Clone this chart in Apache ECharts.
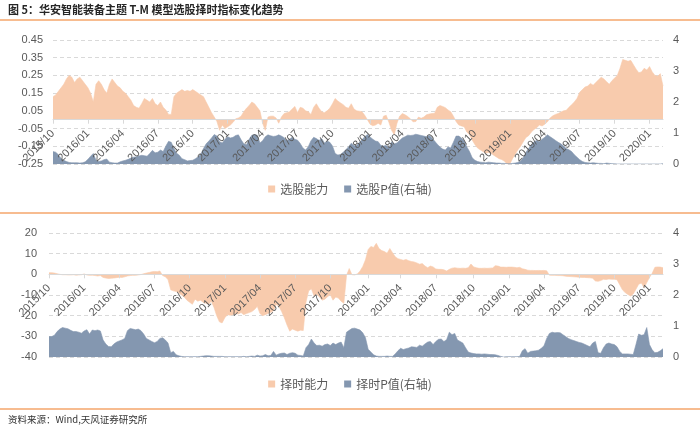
<!DOCTYPE html>
<html>
<head>
<meta charset="utf-8">
<title>华安智能装备主题 T-M 模型选股择时指标变化趋势</title>
<script src="https://cdn.jsdelivr.net/npm/echarts@6/dist/echarts.min.js"></script>
<style>
  html, body { margin: 0; padding: 0; background: #fff; }
  #main { width: 700px; height: 429px; }
</style>
</head>
<body>
<div id="main"></div>
<script>
// 周度数据，起点 2015/10/01
var quarterLabels = ['2015/10', '2016/01', '2016/04', '2016/07', '2016/10', '2017/01', '2017/04', '2017/07',
    '2017/10', '2018/01', '2018/04', '2018/07', '2018/10', '2019/01', '2019/04', '2019/07', '2019/10', '2020/01'];

// 选股能力（左轴）
var stockPick = [
    0.13, 0.14, 0.16, 0.18, 0.20, 0.23, 0.25, 0.24, 0.21, 0.23,
    0.24, 0.22, 0.20, 0.18, 0.15, 0.10, 0.20, 0.22, 0.20, 0.17,
    0.15, 0.20, 0.23, 0.21, 0.19, 0.18, 0.16, 0.15, 0.13, 0.11,
    0.08, 0.07, 0.065, 0.09, 0.12, 0.11, 0.10, 0.12, 0.09, 0.08,
    0.10, 0.07, 0.055, 0.03, 0.03, 0.13, 0.15, 0.16, 0.17, 0.16,
    0.165, 0.16, 0.17, 0.16, 0.15, 0.14, 0.13, 0.10, 0.07, 0.04,
    0.015, -0.01, -0.06, -0.03, -0.05, -0.04, -0.03, -0.015, 0.005, 0.01,
    0.02, 0.045, 0.065, 0.08, 0.10, 0.09, 0.07, 0.05, -0.02, -0.06,
    0.015, 0.02, 0.02, 0.01, -0.02, 0.015, 0.035, 0.04, 0.045, 0.06,
    0.075, 0.04, 0.07, 0.065, 0.05, 0.045, 0.03, 0.07, 0.09, 0.065,
    0.045, 0.04, 0.05, 0.065, 0.09, 0.12, 0.105, 0.095, 0.085, 0.07,
    0.065, 0.09, 0.06, 0.05, 0.048, 0.045, 0.025, 0.0, -0.025, -0.034,
    -0.03, -0.02, -0.03, 0.02, 0.025, -0.015, -0.06, -0.085, -0.02, 0.02,
    0.035, 0.028, 0.018, 0.005, -0.012, -0.01, 0.015, 0.008, 0.015, 0.028,
    0.032, 0.035, 0.036, 0.07, 0.08, 0.075, 0.068, 0.055, 0.045, 0.02,
    -0.01, -0.03, -0.035, -0.04, -0.07, -0.085, -0.115, -0.14, -0.16, -0.17,
    -0.18, -0.19, -0.185, -0.19, -0.20, -0.21, -0.22, -0.225, -0.235, -0.25,
    -0.25, -0.22, -0.195, -0.17, -0.15, -0.125, -0.10, -0.09, -0.07, -0.055,
    -0.045, -0.03, -0.035, -0.025, -0.012, 0.01, 0.022, 0.03, 0.035, 0.043,
    0.05, 0.053, 0.07, 0.085, 0.10, 0.12, 0.155, 0.17, 0.185, 0.19,
    0.205, 0.195, 0.21, 0.225, 0.24, 0.23, 0.215, 0.20, 0.22, 0.235,
    0.25, 0.29, 0.34, 0.335, 0.33, 0.335, 0.31, 0.285, 0.265, 0.27,
    0.29, 0.28, 0.30, 0.27, 0.25, 0.245, 0.26, 0.19
];

// 选股P值（右轴）
var stockPickP = [
    0.40, 0.38, 0.30, 0.18, 0.12, 0.08, 0.05, 0.04, 0.04, 0.04,
    0.03, 0.04, 0.07, 0.15, 0.25, 0.34, 0.12, 0.08, 0.10, 0.14,
    0.16, 0.06, 0.04, 0.03, 0.03, 0.07, 0.10, 0.12, 0.15, 0.19,
    0.22, 0.23, 0.26, 0.28, 0.27, 0.25, 0.34, 0.44, 0.36, 0.38,
    0.45, 0.40, 0.58, 0.73, 0.70, 0.50, 0.35, 0.28, 0.17, 0.14,
    0.10, 0.11, 0.12, 0.17, 0.23, 0.32, 0.50, 0.65, 0.74, 0.84,
    0.95, 0.90, 0.72, 0.68, 0.80, 0.88, 0.84, 0.86, 0.92, 0.94,
    0.78, 0.65, 0.62, 0.80, 0.93, 0.95, 0.93, 0.68, 0.75, 0.88,
    0.94, 0.91, 0.89, 0.90, 0.94, 0.90, 0.85, 0.76, 0.80, 0.86,
    0.80, 0.77, 0.66, 0.52, 0.45, 0.56, 0.75, 0.86, 0.82, 0.76,
    0.82, 0.68, 0.74, 0.70, 0.58, 0.34, 0.29, 0.31, 0.38, 0.46,
    0.56, 0.67, 0.60, 0.60, 0.70, 0.78, 0.88, 0.95, 0.87, 0.80,
    0.74, 0.72, 0.60, 0.58, 0.60, 0.52, 0.72, 0.65, 0.68, 0.76,
    0.84, 0.88, 0.93, 0.92, 0.93, 0.96, 0.94, 0.92, 0.90, 0.88,
    0.93, 0.84, 0.74, 0.64, 0.55, 0.48, 0.45, 0.55, 0.52, 0.70,
    0.90, 0.90, 0.84, 0.75, 0.55, 0.40, 0.20, 0.12, 0.08, 0.06,
    0.05, 0.04, 0.06, 0.05, 0.04, 0.03, 0.03, 0.02, 0.02, 0.01,
    0.01, 0.02, 0.03, 0.05, 0.10, 0.20, 0.38, 0.50, 0.62, 0.72,
    0.76, 0.72, 0.80, 0.86, 0.94, 0.88, 0.82, 0.76, 0.70, 0.65,
    0.58, 0.50, 0.46, 0.40, 0.30, 0.22, 0.14, 0.08, 0.05, 0.04,
    0.03, 0.04, 0.03, 0.02, 0.02, 0.01, 0.03, 0.02, 0.01, 0.005,
    0, 0, 0, 0, 0, 0, 0, 0, 0, 0,
    0, 0, 0, 0, 0, 0, 0, 0.02
];

// 择时能力（左轴）
var timing = [
    0.8, 0.8, 0.6, 0.3, 0.0, -0.2, -0.2, -0.3, -0.3, -0.2,
    -0.4, -0.3, -0.2, 0.2, -0.3, -0.5, -0.4, -0.6, -0.8, -0.6,
    -1.5, -1.8, -2.0, -1.9, -1.8, -1.6, -1.4, -1.5, -1.2, -0.8,
    -0.6, -0.5, -0.5, -0.3, -0.1, 0.3, 0.6, 0.9, 1.2, 1.4,
    1.3, 1.6, -0.6, -1.2, -2.5, -7.5, -8.0, -8.3, -9.0, -10,
    -11, -12.5, -13.5, -14.5, -12, -13, -12.5, -13.5, -14, -14.5,
    -13, -16, -20, -23, -23.5, -21, -19.5, -19.8, -19.5, -19,
    -19.2, -18.5, -19.5, -19, -18.5, -18, -17, -15.5, -19, -20,
    -19.5, -19, -18.4, -17.6, -14.5, -15.5, -18, -21, -24.5, -27.5,
    -26.5, -27, -27.5, -27, -27.2, -13.5, -8, -7, -10.5, -9.6,
    -11, -12.5, -12, -10.8, -9.8, -12.5, -11, -11.5, -13, -14,
    -0.5, 2.8, -0.2, -0.3, 0.2, 1.6, 3.8, 7, 12, 13.5,
    13, 15, 12.5, 11.5, 11, 10.2, 12.5, 10.5, 8.5, 7.6,
    7.2, 6.8, 7.2, 6.6, 6.2, 6.0, 5.5, 4.9, 5.2, 4.0,
    3.2, 4.0, 3.6, 2.6, 2.4, 2.4, 2.2, 1.6, 2.4, 3.0,
    3.2, 3.0, 2.9, 3.0, 2.9, 3.2, 5.0, 3.6, 3.2, 2.9,
    2.9, 3.0, 2.9, 3.0, 3.1, 4.2, 4.0, 3.5, 3.5, 3.4,
    3.5, 3.5, 3.4, 3.2, 3.4, 2.7, 2.4, 2.0, 1.9, 1.9,
    1.8, 1.9, 1.8, 1.9, 1.7, -0.4, -0.5, -0.5, -0.6, -0.6,
    -0.7, -0.9, -1.0, -1.1, -1.2, -1.3, -1.4, -1.5, -1.5, -1.6,
    -1.7, -1.9, -3.2, -3.4, -3.0, -2.4, -2.5, -2.3, -2.4, -2.4,
    -2.6, -5.0, -7.5, -8.8, -9.7, -10.5, -9.5, -7.2, -4.8, -4.2,
    -6.5, -4.0, -1.5, 0.5, 3.4, 3.6, 3.5, 3.2
];

// 择时P值（右轴）
var timingP = [
    0.66, 0.66, 0.70, 0.82, 0.90, 0.95, 0.93, 0.91, 0.86, 0.82,
    0.82, 0.80, 0.77, 0.84, 0.88, 0.74, 0.87, 0.85, 0.87, 0.84,
    0.55, 0.42, 0.34, 0.33, 0.42, 0.48, 0.52, 0.55, 0.60, 0.85,
    0.92, 0.90, 0.88, 0.90, 0.85, 0.74, 0.60, 0.55, 0.50, 0.46,
    0.50, 0.60, 0.62, 0.55, 0.45, 0.14, 0.18, 0.07, 0.04, 0.02,
    0.01, 0.01, 0.01, 0.01, 0.01, 0.01, 0.02, 0.03, 0.04, 0.04,
    0.03, 0.02, 0.02, 0.02, 0.02, 0.01, 0.01, 0.01, 0.01, 0.01,
    0.01, 0.01, 0.02, 0.01, 0.02, 0.03, 0.02, 0.06, 0.03, 0.04,
    0.08, 0.04, 0.05, 0.18, 0.06, 0.10, 0.12, 0.13, 0.08, 0.12,
    0.14, 0.12, 0.06, 0.05, 0.03, 0.30, 0.40, 0.58, 0.45, 0.37,
    0.38, 0.35, 0.40, 0.42, 0.37, 0.45, 0.40, 0.45, 0.48, 0.30,
    0.80, 0.86, 0.92, 0.93, 0.90, 0.87, 0.78, 0.62, 0.25, 0.16,
    0.07, 0.03, 0.02, 0.02, 0.02, 0.03, 0.02, 0.02, 0.10, 0.20,
    0.28, 0.24, 0.27, 0.29, 0.33, 0.32, 0.31, 0.38, 0.35, 0.42,
    0.48, 0.50, 0.40, 0.50, 0.57, 0.58, 0.50, 0.56, 0.80, 0.72,
    0.76, 0.55, 0.50, 0.45, 0.30, 0.16, 0.13, 0.11, 0.10, 0.10,
    0.09, 0.10, 0.09, 0.08, 0.08, 0.07, 0.05, 0.02, 0.0, 0.01,
    0.01, 0.01, 0.01, 0.01, 0.02, 0.20, 0.27, 0.12, 0.18, 0.19,
    0.20, 0.22, 0.28, 0.36, 0.60, 0.76, 0.80, 0.78, 0.79, 0.78,
    0.72, 0.66, 0.60, 0.56, 0.53, 0.50, 0.47, 0.45, 0.41, 0.37,
    0.33, 0.45, 0.50, 0.14, 0.12, 0.30, 0.42, 0.45, 0.42, 0.40,
    0.33, 0.18, 0.10, 0.10, 0.10, 0.09, 0.08, 0.40, 0.74, 0.70,
    0.72, 0.95, 0.40, 0.23, 0.14, 0.15, 0.20, 0.27
];

function pad(n) { return n < 10 ? '0' + n : '' + n; }

// 周度日期类目
var weeks = [];
for (var i = 0; i < stockPick.length; i++) {
    var d = new Date(2015, 9, 1 + 7 * i);
    weeks.push(d.getFullYear() + '/' + pad(d.getMonth() + 1) + '/' + pad(d.getDate()));
}

// 每个季度标签放在离该月1号最近的一周
var quarterIndex = {};
var start = new Date(2015, 9, 1);
quarterLabels.forEach(function (q) {
    var p = q.split('/');
    var qd = new Date(+p[0], +p[1] - 1, 1);
    var idx = Math.round((qd - start) / 86400000 / 7);
    quarterIndex[idx] = q;
});
function isQuarter(index) { return quarterIndex.hasOwnProperty(index); }

var orange = '#F8CBAD';
var blue = '#8497B0';
var gridColor = '#D9D9D9';
var labelColor = '#595959';
var numFont = "'Liberation Sans', Arial, sans-serif";
var cjkFont = "'Noto Sans CJK SC', sans-serif";

var grids = [
    { left: 53, right: 37, top: 40, height: 124 },
    { left: 49, right: 37, top: 233, height: 124 }
];
var leftRanges = [[-0.25, 0.45], [-40, 20]];

// x轴放在左轴0值处（Excel 交叉于0），用 offset 从底边上移
function xAxisOf(gridIndex) {
    var g = grids[gridIndex], r = leftRanges[gridIndex];
    var zeroFromBottom = g.height * (0 - r[0]) / (r[1] - r[0]);
    return {
        gridIndex: gridIndex,
        type: 'category',
        data: weeks,
        boundaryGap: false,
        position: 'bottom',
        offset: -zeroFromBottom,
        z: 10,
        axisLine: { onZero: false, lineStyle: { color: gridColor, width: 1 } },
        axisTick: { interval: isQuarter, length: 4, lineStyle: { color: gridColor } },
        axisLabel: {
            interval: isQuarter,
            formatter: function (value, index) { return quarterIndex[index] || ''; },
            rotate: 45,
            margin: 12,
            color: labelColor,
            fontSize: 11,
            fontFamily: numFont
        },
        splitLine: { show: false }
    };
}

function leftAxis(gridIndex, interval, digits, margin) {
    return {
        gridIndex: gridIndex,
        type: 'value',
        position: 'left',
        min: leftRanges[gridIndex][0],
        max: leftRanges[gridIndex][1],
        interval: interval,
        axisLine: { show: false },
        axisTick: { show: false },
        axisLabel: {
            margin: margin,
            color: labelColor,
            fontSize: 11,
            fontFamily: numFont,
            formatter: function (v) { return v.toFixed(digits); }
        },
        splitLine: { show: true, lineStyle: { color: gridColor, type: [4, 3] } }
    };
}

function rightAxis(gridIndex) {
    return {
        gridIndex: gridIndex,
        type: 'value',
        position: 'right',
        min: 0,
        max: 4,
        interval: 1,
        axisLine: { show: false },
        axisTick: { show: false },
        axisLabel: { margin: 10, color: labelColor, fontSize: 11, fontFamily: numFont },
        splitLine: { show: false }
    };
}

function areaSeries(name, xi, yi, data, color, z) {
    return {
        name: name,
        type: 'line',
        xAxisIndex: xi,
        yAxisIndex: yi,
        data: data,
        symbol: 'none',
        z: z,
        lineStyle: { width: 0.6, color: color },
        itemStyle: { color: color },
        areaStyle: { color: color, opacity: 1 }
    };
}

var legendStyle = { fontSize: 12, color: labelColor, fontFamily: cjkFont };

var myChart = echarts.init(document.getElementById('main'));

var option = {
    animation: false,
    backgroundColor: '#fff',
    grid: grids,
    legend: [
        {
            data: ['选股能力', '选股P值(右轴)'],
            top: 178, left: 'center',
            icon: 'rect', itemWidth: 7, itemHeight: 7, itemGap: 16,
            textStyle: legendStyle
        },
        {
            data: ['择时能力', '择时P值(右轴)'],
            top: 373, left: 'center',
            icon: 'rect', itemWidth: 7, itemHeight: 7, itemGap: 16,
            textStyle: legendStyle
        }
    ],
    xAxis: [xAxisOf(0), xAxisOf(1)],
    yAxis: [
        leftAxis(0, 0.1, 2, 10),
        rightAxis(0),
        leftAxis(1, 10, 0, 12),
        rightAxis(1)
    ],
    series: [
        areaSeries('选股能力', 0, 0, stockPick, orange, 2),
        areaSeries('选股P值(右轴)', 0, 1, stockPickP, blue, 3),
        areaSeries('择时能力', 1, 2, timing, orange, 2),
        areaSeries('择时P值(右轴)', 1, 3, timingP, blue, 3)
    ],
    graphic: [
        {
            type: 'text', left: 8, top: 4,
            style: { text: '图 5：华安智能装备主题 T-M 模型选股择时指标变化趋势', fill: '#262626',
                font: 'bold 11px ' + cjkFont }
        },
        { type: 'line', shape: { x1: 0, y1: 20, x2: 700, y2: 20 }, style: { stroke: '#F5A66B', lineWidth: 1.5 } },
        { type: 'line', shape: { x1: 0, y1: 213, x2: 700, y2: 213 }, style: { stroke: '#F5A66B', lineWidth: 1.5 } },
        { type: 'line', shape: { x1: 0, y1: 409, x2: 700, y2: 409 }, style: { stroke: '#F5A66B', lineWidth: 1.5 } },
        {
            type: 'text', left: 8, top: 415,
            style: { text: '资料来源：Wind,天风证券研究所', fill: '#333333', font: '9.5px ' + cjkFont }
        }
    ]
};

myChart.setOption(option);
</script>
</body>
</html>
